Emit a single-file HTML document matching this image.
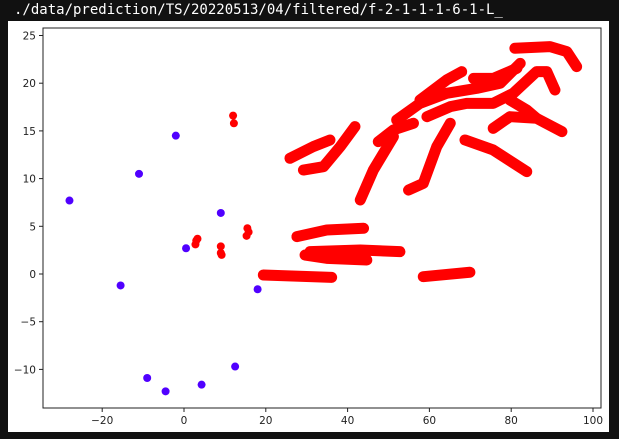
<!DOCTYPE html>
<html><head><meta charset="utf-8"><style>
html,body{margin:0;padding:0;background:#111;width:619px;height:439px;overflow:hidden}
.title{position:absolute;left:14px;top:2px;color:#fff;font:14px "DejaVu Sans Mono","Liberation Mono",monospace}
svg{position:absolute;left:0;top:0}
</style></head><body>
<div class="title">./data/prediction/TS/20220513/04/filtered/f-2-1-1-1-6-1-L_</div>
<svg id="chart" width="619" height="439"></svg>
<script>
const xTicks=[-20,0,20,40,60,80,100];
const yTicks=[-10,-5,0,5,10,15,20,25];
const blueX=[-28,-15.5,-11,-2,0.5,9,18,-9,-4.5,4.3,12.5];
const blueY=[7.7,-1.2,10.5,14.5,2.7,6.4,-1.6,-10.9,-12.3,-11.6,-9.7];
const redDotX=[12,12.2,3,3.3,2.8,9,9,9.2,15.5,15.8,15.3];
const redDotY=[16.6,15.8,3.5,3.7,3.1,2.9,2.2,2,4.8,4.4,4];
const redStrokes=[
 [[80.9,23.66],[89.5,23.83],[93.6,23.31],[96.0,21.74]],
 [[52.0,16.14],[57.7,17.89],[64.2,18.94],[71.6,19.46],[77.3,19.99],[82.2,22.08]],
 [[59.4,16.49],[65.1,17.54],[69.1,17.89],[75.6,17.89],[80.5,18.94],[86.2,21.21],[88.7,21.21],[90.7,19.29]],
 [[70.8,20.5],[75.6,20.5],[81.4,21.56]],
 [[57.7,18.24],[64.2,20.34],[67.9,21.21]],
 [[47.5,13.87],[51.2,15.1],[56.1,15.8]],
 [[51.2,14.4],[46.3,10.9],[43.1,7.76]],
 [[54.9,8.8],[58.5,9.5],[61.8,13.35],[65.1,15.8]],
 [[75.6,15.27],[79.7,16.49],[86.2,16.32],[92.4,14.92]],
 [[79.7,18.24],[83.8,17.19],[86.2,16.32]],
 [[68.7,14.05],[75.6,13.0],[83.8,10.73]],
 [[25.9,12.13],[31.6,13.35],[35.7,14.05]],
 [[29.2,10.9],[34.1,11.25],[38.2,13.35],[41.8,15.45]],
 [[27.6,3.92],[34.9,4.61],[43.9,4.79]],
 [[29.6,1.99],[34.9,1.64],[44.7,1.47]],
 [[30.8,2.34],[43.1,2.52],[52.8,2.34]],
 [[19.4,-0.1],[36.1,-0.35]],
 [[58.5,-0.28],[69.9,0.18]]
];
const NS="http://www.w3.org/2000/svg";
const svg=document.getElementById('chart');
const L=43,R=601,T=28,B=408;
const sx=v=>184+v*4.09;
const sy=v=>274-v*9.54;
function mk(tag,attrs){const e=document.createElementNS(NS,tag);for(const k in attrs)e.setAttribute(k,attrs[k]);svg.appendChild(e);return e;}
const bg=mk('rect',{x:8,y:21,width:601,height:411,fill:'#fff'});


const clip=mk('clipPath',{id:'cp'});
const cr=document.createElementNS(NS,'rect');cr.setAttribute('x',L);cr.setAttribute('y',T);cr.setAttribute('width',R-L);cr.setAttribute('height',B-T);clip.appendChild(cr);
const g=mk('g',{'clip-path':'url(#cp)'});
redStrokes.forEach((s,i)=>{
 const p=document.createElementNS(NS,'polyline');
 p.setAttribute('points',s.map(q=>sx(q[0])+','+sy(q[1])).join(' '));
 p.setAttribute('fill','none');p.setAttribute('stroke','#ff0000');p.setAttribute('stroke-width','11');
 p.setAttribute('stroke-linecap','round');p.setAttribute('stroke-linejoin','round');
 
 
 g.appendChild(p);
});
redDotX.forEach((v,i)=>{
 const c=document.createElementNS(NS,'circle');
 c.setAttribute('cx',sx(v));c.setAttribute('cy',sy(redDotY[i]));c.setAttribute('r',4);c.setAttribute('fill','#ff0000');
 
 
 g.appendChild(c);
});
blueX.forEach((v,i)=>{
 const c=document.createElementNS(NS,'circle');
 c.setAttribute('cx',sx(v));c.setAttribute('cy',sy(blueY[i]));c.setAttribute('r',4);c.setAttribute('fill','#5000ff');
 
 
 g.appendChild(c);
});
const fr=mk('rect',{x:L,y:T,width:R-L,height:B-T,fill:'none',stroke:'#222','stroke-width':1});


xTicks.forEach(v=>{
 const x=sx(v);
 mk('line',{x1:x,x2:x,y1:B,y2:B+4,stroke:'#222'});
 const t=mk('text',{x:x,y:B+16,'text-anchor':'middle','font-size':'10.5','font-family':'DejaVu Sans, Liberation Sans, sans-serif',fill:'#222'});
 t.textContent=v<0?'\u2212'+(-v):String(v);
 
 
});
yTicks.forEach(v=>{
 const y=sy(v);
 mk('line',{x1:L-4,x2:L,y1:y,y2:y,stroke:'#222'});
 const t=mk('text',{x:L-7,y:y+4,'text-anchor':'end','font-size':'10.5','font-family':'DejaVu Sans, Liberation Sans, sans-serif',fill:'#222'});
 t.textContent=v<0?'\u2212'+(-v):String(v);
 
 
});
</script>
</body></html>
